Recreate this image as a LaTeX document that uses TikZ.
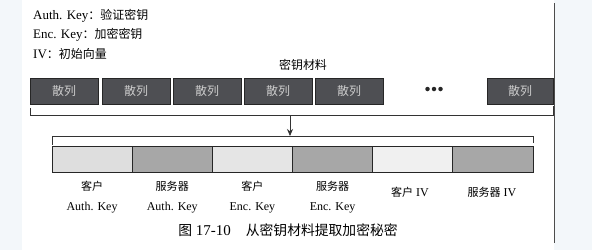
\documentclass[tikz,border=0pt]{standalone}
\usepackage{fontspec}
\setmainfont{Liberation Serif}
\newfontfamily\cjk[Scale=0.92]{Noto Sans CJK SC}
\usetikzlibrary{arrows.meta}
\newcommand\zh[1]{{\cjk #1}}
\definecolor{hashgray}{HTML}{4E4F53}
\definecolor{lightkey}{HTML}{DEDEDE}
\definecolor{midkey}{HTML}{A7A7A7}
\definecolor{paleKey}{HTML}{F0F0F0}
\definecolor{margin}{HTML}{F3F7FA}
\begin{document}
\begin{tikzpicture}[x=1pt,y=-1pt,
  hashbox/.style={draw=black!85, fill=hashgray, line width=0.8pt,
    minimum width=68pt, minimum height=26pt, inner sep=0pt, outer sep=0pt,
    text=black!20, font=\fontsize{13}{13}\selectfont},
  keybox/.style={draw=black!85, line width=0.8pt, minimum width=80.17pt,
    minimum height=26pt, inner sep=0pt, outer sep=0pt},
  legend/.style={anchor=west, inner sep=0pt, font=\fontsize{13}{13}\selectfont},
  keylabel/.style={align=center, inner sep=0pt, font=\fontsize{12}{20}\selectfont},
  bracket/.style={draw=black!80, line width=0.8pt},
  dot/.style={circle, fill=black!85, inner sep=0pt, minimum size=4.5pt}
]
% page and margin
\fill[margin] (0,0) rectangle (592,250);
\fill[white] (22,0) rectangle (554,250);
\useasboundingbox (0,0) rectangle (592,250);
\draw[black!70, line width=0.7pt] (554,3) -- (554,243);

% legend
\node[legend] (lg1) at (33,16) {Auth. Key\zh{：验证密钥}};
\node[legend] (lg2) at (33,35) {Enc. Key\zh{：加密密钥}};
\node[legend] (lg3) at (33,54) {IV\zh{：初始向量}};

% key material: row of hashes
\node[inner sep=0pt, font=\fontsize{13}{13}\selectfont] (km) at (303,65) {\zh{密钥材料}};
\node[hashbox] (h1) at (64,91) {\zh{散列}};
\node[hashbox] (h2) at (136,91) {\zh{散列}};
\node[hashbox] (h3) at (207,91) {\zh{散列}};
\node[hashbox] (h4) at (278,91) {\zh{散列}};
\node[hashbox] (h5) at (349,91) {\zh{散列}};
\node[hashbox, minimum width=66pt] (hn) at (520,91) {\zh{散列}};
\node[dot] (d1) at (427.5,89) {};
\node[dot] (d2) at (434,89) {};
\node[dot] (d3) at (440.5,89) {};

% bracket under the hashes
\coordinate (ua) at (30,108);
\coordinate (ub) at (30,115);
\coordinate (uc) at (553,115);
\coordinate (ud) at (553,106);
\draw[bracket] (ua) -- (ub) -- (uc) -- (ud);
\coordinate (um) at (290,115);

% bracket over the derived keys
\coordinate (la) at (52,145);
\coordinate (lb) at (52,136);
\coordinate (lc) at (533,136);
\coordinate (ld) at (533,143);
\draw[bracket] (la) -- (lb) -- (lc) -- (ld);
\coordinate (lm) at (290,136);
\draw[bracket, -{Stealth[length=7pt,width=6pt]}] (um) -- (lm);

% derived keys
\node[keybox, fill=lightkey] (k1) at (92.08,159) {};
\node[keybox, fill=midkey] (k2) at (172.25,159) {};
\node[keybox, fill=lightkey!80!white] (k3) at (252.42,159) {};
\node[keybox, fill=midkey] (k4) at (332.58,159) {};
\node[keybox, fill=paleKey] (k5) at (412.75,159) {};
\node[keybox, fill=midkey] (k6) at (492.92,159) {};

\node[keylabel] (t1) at (92.08,197) {\zh{客户}\\Auth. Key};
\node[keylabel] (t2) at (172.25,197) {\zh{服务器}\\Auth. Key};
\node[keylabel] (t3) at (252.42,197) {\zh{客户}\\Enc. Key};
\node[keylabel] (t4) at (332.58,197) {\zh{服务器}\\Enc. Key};
\node[keylabel] (t5) at (410,192) {\zh{客户} IV};
\node[keylabel] (t6) at (492,192) {\zh{服务器} IV};

% caption
\node[inner sep=0pt, font=\fontsize{15}{15}\selectfont] (cap) at (288,230)
  {\zh{图} 17-10\hspace{1em}\zh{从密钥材料提取加密秘密}};
\end{tikzpicture}
\end{document}
